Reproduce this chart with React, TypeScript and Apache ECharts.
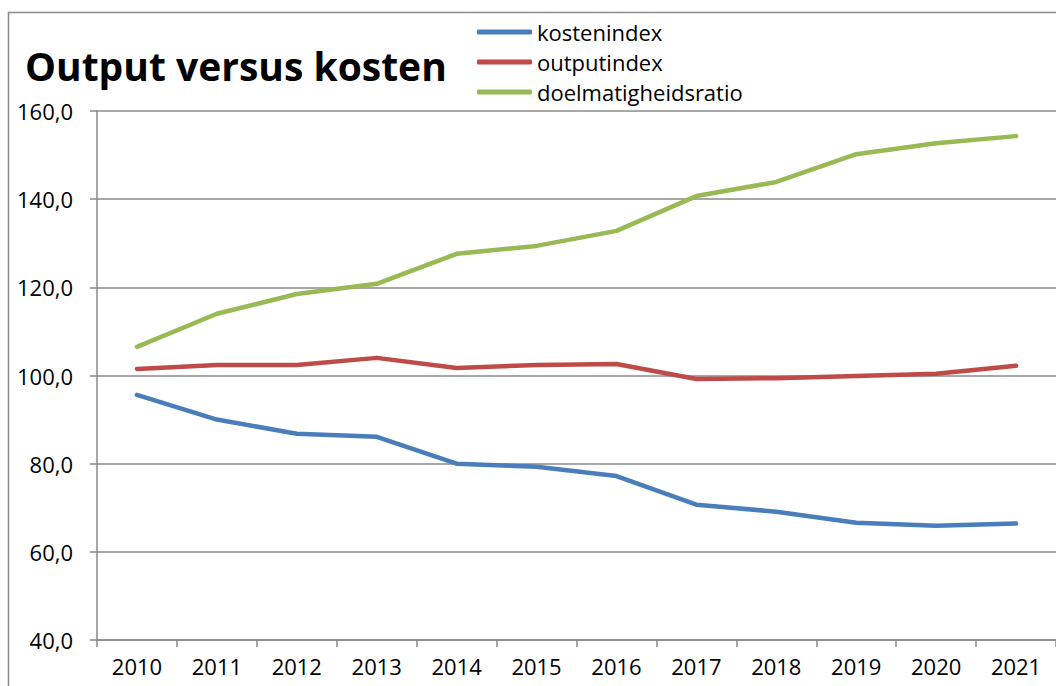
import React, { useEffect, useRef } from "react";
import * as echarts from "echarts";

const years = ["2010", "2011", "2012", "2013", "2014", "2015", "2016", "2017", "2018", "2019", "2020", "2021"];
const kostenindex = [95.6, 90.0, 86.8, 86.1, 80.0, 79.3, 77.2, 70.7, 69.1, 66.6, 65.9, 66.4];
const outputindex = [101.5, 102.4, 102.4, 104.0, 101.7, 102.4, 102.6, 99.2, 99.4, 99.9, 100.4, 102.2];
const doelmatigheidsratio = [106.5, 114.0, 118.5, 120.8, 127.6, 129.4, 132.8, 140.7, 143.9, 150.2, 152.7, 154.3];

const FONT = "'Open Sans', 'Liberation Sans', sans-serif";

export default function App() {
  const ref = useRef<HTMLDivElement>(null);
  useEffect(() => {
    if (!ref.current) return;
    const chart = echarts.init(ref.current, null, { renderer: "svg" });
    const mk = (name: string, data: number[], color: string) => ({
      name,
      type: "line",
      data,
      symbol: "none",
      lineStyle: { width: 4.5, color, cap: "round", join: "round" },
      itemStyle: { color },
    });
    chart.setOption({
      animation: false,
      backgroundColor: "#fff",
      textStyle: { fontFamily: FONT },
      title: {
        text: "Output versus kosten",
        left: 20,
        top: 41,
        textStyle: { fontFamily: FONT, fontSize: 39, fontWeight: "bold", color: "#000" },
      },
      legend: {
        orient: "vertical",
        left: 472,
        top: 16,
        icon: "roundRect",
        itemWidth: 55,
        itemHeight: 5,
        itemGap: 8,
        textStyle: { fontFamily: FONT, fontSize: 22, color: "#000", padding: [0, 0, 0, 0], lineHeight: 22 },
        data: ["kostenindex", "outputindex", "doelmatigheidsratio"],
      },
      graphic: [
        {
          type: "rect",
          shape: { x: 8.5, y: 12.5, width: 1100, height: 800 },
          style: { fill: "none", stroke: "#8a8a8a", lineWidth: 1.5 },
          silent: true,
        },
      ],
      grid: { left: 97, top: 111, width: 969, height: 529, containLabel: false },
      xAxis: {
        type: "category",
        data: years,
        boundaryGap: true,
        axisLine: { lineStyle: { color: "#8a8a8a", width: 1.5 } },
        axisTick: { show: true, length: 7, inside: false, lineStyle: { color: "#8a8a8a", width: 1.5 } },
        axisLabel: { color: "#000", fontSize: 22, fontFamily: FONT, margin: 15 },
        splitLine: { show: false },
      },
      yAxis: {
        type: "value",
        min: 40,
        max: 160,
        interval: 20,
        axisLine: { show: true, lineStyle: { color: "#8a8a8a", width: 1.5 } },
        axisTick: { show: true, length: 7, lineStyle: { color: "#8a8a8a", width: 1.5 } },
        axisLabel: {
          color: "#000",
          fontSize: 22,
          fontFamily: FONT,
          margin: 24,
          formatter: (v: number) => v.toFixed(1).replace(".", ","),
        },
        splitLine: { show: true, lineStyle: { color: "#8a8a8a", width: 1.5 } },
      },
      series: [
        mk("kostenindex", kostenindex, "#4a7ebb"),
        mk("outputindex", outputindex, "#be4b48"),
        mk("doelmatigheidsratio", doelmatigheidsratio, "#98b954"),
      ],
    });
    return () => chart.dispose();
  }, []);
  return <div ref={ref} style={{ position: "absolute", left: 0, top: 0, width: 1056, height: 686 }} />;
}
